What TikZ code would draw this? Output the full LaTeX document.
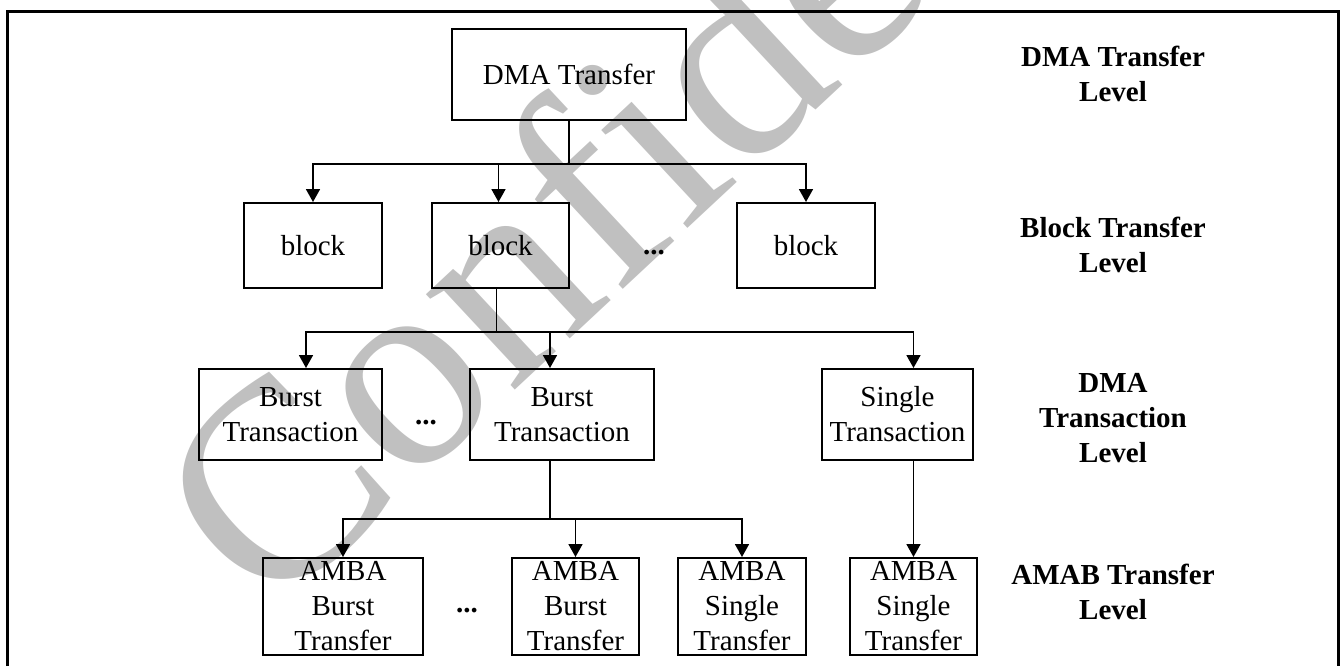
\documentclass[tikz,border=0pt]{standalone}
\usepackage{fontspec}
\setmainfont{Liberation Serif}
\usepackage{tikz}
\usetikzlibrary{positioning, arrows.meta}
\usepackage{xcolor}
\definecolor{markgray}{RGB}{192,192,192}

\begin{document}
\begin{tikzpicture}[on grid, >={Triangle[length=6.5pt, width=7pt]},
    unit/.style={draw, line width=1pt, align=center, inner sep=0pt, font=\fontsize{14.5}{17.5}\selectfont},
    level/.style={align=center, font=\fontsize{14.5}{17.5}\selectfont\bfseries},
    more/.style={inner sep=0pt, font=\fontsize{14.5}{17.5}\selectfont\bfseries},
    link/.style={->, line width=0.9pt}]
    \useasboundingbox (0pt,0pt) rectangle (670pt,-333pt);

    % watermark and frame
    \node[rotate=43, text=markgray, inner sep=0pt, font=\fontsize{142}{142}\selectfont] (mark) at (360pt,-32pt) {Confidential};
    \draw[line width=1.5pt] (3.5pt,-333pt) -- (3.5pt,-5.5pt) -- (669pt,-5.5pt) -- (669pt,-333pt);

    % DMA transfer level
    \node[unit, minimum width=117pt, minimum height=45.5pt] (dma) at (284.5pt,-37pt) {DMA Transfer};

    % block transfer level
    \node[unit, minimum width=69pt, minimum height=42.5pt] (blk1) [below left=85.75pt and 128pt of dma] {block};
    \node[unit, minimum width=68.5pt, minimum height=42.5pt] (blk2) [right=93.75pt of blk1] {block};
    \node[unit, minimum width=69pt, minimum height=42.5pt] (blk3) [right=152.75pt of blk2] {block};
    \node[more] (dots1) [below right=3.75pt and 76.75pt of blk2] {...};

    % DMA transaction level
    \node[unit, minimum width=91.5pt, minimum height=45.5pt] (bt1) [below left=84.5pt and 11.25pt of blk1] {Burst\\Transaction};
    \node[unit, minimum width=92pt, minimum height=45.5pt] (bt2) [right=135.75pt of bt1] {Burst\\Transaction};
    \node[unit, minimum width=75.5pt, minimum height=45.5pt] (st) [right=167.75pt of bt2] {Single\\Transaction};
    \node[more] (dots2) [below right=4.25pt and 67.75pt of bt1] {...};

    % AMBA transfer level
    \node[unit, minimum width=80pt, minimum height=48.5pt] (ab1) [below right=96pt and 26.25pt of bt1] {AMBA\\Burst\\Transfer};
    \node[unit, minimum width=63.5pt, minimum height=48.5pt] (ab2) [right=116.25pt of ab1] {AMBA\\Burst\\Transfer};
    \node[unit, minimum width=64pt, minimum height=48.5pt] (as1) [right=83.25pt of ab2] {AMBA\\Single\\Transfer};
    \node[unit, minimum width=63.5pt, minimum height=48.5pt] (as2) [right=85.75pt of as1] {AMBA\\Single\\Transfer};
    \node[more] (dots3) [below right=2.25pt and 62pt of ab1] {...};

    % level names
    \node[level] (lvl1) [right=272pt of dma] {DMA Transfer\\Level};
    \node[level] (lvl2) [below=85.5pt of lvl1] {Block Transfer\\Level};
    \node[level] (lvl3) [below=86.5pt of lvl2] {DMA\\Transaction\\Level};
    \node[level] (lvl4) [below=87pt of lvl3] {AMAB Transfer\\Level};

    % connections
    \draw[link] (dma.south) -- ++(0,-21.75pt) -| (blk1.north);
    \draw[link] (dma.south) -- ++(0,-21.75pt) -| ([xshift=-1pt]blk2.north);
    \draw[link] (dma.south) -- ++(0,-21.75pt) -| (blk3.north);

    \draw[link] ([xshift=-2pt]blk2.south) -- ++(0,-21.5pt) -| ([xshift=7.75pt]bt1.north);
    \draw[link] ([xshift=-2pt]blk2.south) -- ++(0,-21.5pt) -| ([xshift=-6pt]bt2.north);
    \draw[link] ([xshift=-2pt]blk2.south) -- ++(0,-21.5pt) -| ([xshift=8pt]st.north);

    \draw[link] ([xshift=-6pt]bt2.south) -- ++(0,-29pt) -| (ab1.north);
    \draw[link] ([xshift=-6pt]bt2.south) -- ++(0,-29pt) -| (ab2.north);
    \draw[link] ([xshift=-6pt]bt2.south) -- ++(0,-29pt) -| (as1.north);

    \draw[link] ([xshift=8pt]st.south) -- (as2.north);
\end{tikzpicture}
\end{document}
